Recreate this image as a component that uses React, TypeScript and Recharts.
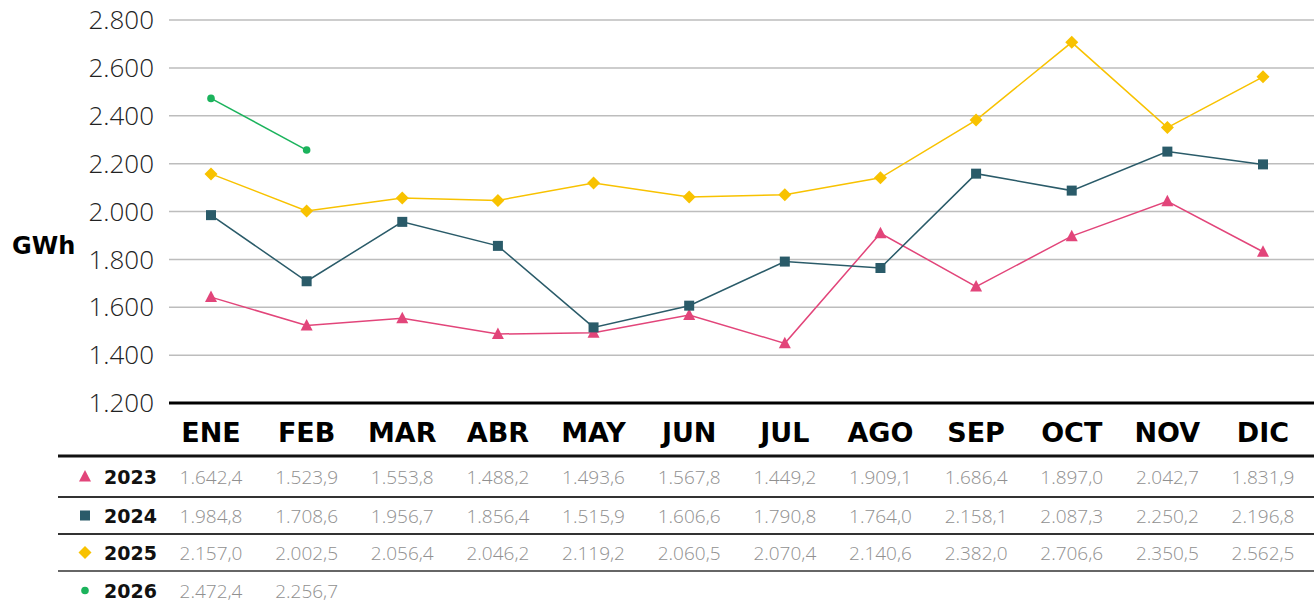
import { CartesianGrid, Line, LineChart, XAxis, YAxis } from 'recharts'

const months = ['ENE', 'FEB', 'MAR', 'ABR', 'MAY', 'JUN', 'JUL', 'AGO', 'SEP', 'OCT', 'NOV', 'DIC']
const v2023 = [1642.4, 1523.9, 1553.8, 1488.2, 1493.6, 1567.8, 1449.2, 1909.1, 1686.4, 1897.0, 2042.7, 1831.9]
const v2024 = [1984.8, 1708.6, 1956.7, 1856.4, 1515.9, 1606.6, 1790.8, 1764.0, 2158.1, 2087.3, 2250.2, 2196.8]
const v2025 = [2157.0, 2002.5, 2056.4, 2046.2, 2119.2, 2060.5, 2070.4, 2140.6, 2382.0, 2706.6, 2350.5, 2562.5]
const v2026 = [2472.4, 2256.7, null, null, null, null, null, null, null, null, null, null]
const yTicks = [1200, 1400, 1600, 1800, 2000, 2200, 2400, 2600, 2800]

const W = 1314
const H = 610

type Shape = 'triangle' | 'square' | 'diamond' | 'circle'

const series: { name: string; values: (number | null)[]; color: string; shape: Shape; rowH: number; line: string; lineW: number }[] = [
  { name: '2023', values: v2023, color: '#e2457a', shape: 'triangle', rowH: 41, line: '#111', lineW: 3 },
  { name: '2024', values: v2024, color: '#2a5b69', shape: 'square', rowH: 37, line: '#333', lineW: 2 },
  { name: '2025', values: v2025, color: '#f8c200', shape: 'diamond', rowH: 37, line: '#333', lineW: 2 },
  { name: '2026', values: v2026, color: '#1bb35c', shape: 'circle', rowH: 39, line: '#333', lineW: 1.5 },
]

const data = months.map((m, i) => ({
  month: m,
  '2023': v2023[i],
  '2024': v2024[i],
  '2025': v2025[i],
  '2026': v2026[i],
}))

const thousands = (n: number) => String(n).replace(/\B(?=(\d{3})+(?!\d))/g, '.')
const fmtValue = (v: number) => {
  const [a, b] = v.toFixed(1).split('.')
  return `${thousands(Number(a))},${b}`
}

function Marker({ cx, cy, shape, color }: { cx: number; cy: number; shape: Shape; color: string }) {
  if (shape === 'triangle') {
    return <path d={`M${cx},${cy - 6.5} L${cx + 6},${cy + 5} L${cx - 6},${cy + 5} Z`} fill={color} />
  }
  if (shape === 'square') {
    return <rect x={cx - 5} y={cy - 5} width={10} height={10} fill={color} />
  }
  if (shape === 'diamond') {
    return <path d={`M${cx},${cy - 6.5} L${cx + 6.5},${cy} L${cx},${cy + 6.5} L${cx - 6.5},${cy} Z`} fill={color} />
  }
  return <circle cx={cx} cy={cy} r={3.8} fill={color} />
}

const makeDot = (shape: Shape, color: string) => (p: any) => {
  if (p.cx == null || p.cy == null || p.value == null) return <g key={p.index} />
  return (
    <g key={p.index}>
      <Marker cx={p.cx} cy={p.cy} shape={shape} color={color} />
    </g>
  )
}

function HeaderTick({ x, y, payload }: any) {
  return (
    <text
      x={x}
      y={y + 29}
      textAnchor="middle"
      dominantBaseline="central"
      fontFamily="'DejaVu Sans', sans-serif"
      fontWeight={700}
      fontSize={27}
      fill="#000"
    >
      {payload.value}
    </text>
  )
}

const makeRowTick = (s: (typeof series)[number]) => ({ x, y, payload }: any) => {
  const v = s.values[payload.index]
  const mid = y + s.rowH / 2
  return (
    <g>
      {payload.index === 0 && (
        <>
          <line x1={x - 153} x2={W} y1={y} y2={y} stroke={s.line} strokeWidth={s.lineW} />
          <Marker cx={x - 126} cy={mid} shape={s.shape} color={s.color} />
          <text
            x={x - 107}
            y={mid}
            dominantBaseline="central"
            fontFamily="'DejaVu Sans', sans-serif"
            fontWeight={700}
            fontSize={19}
            fill="#111"
          >
            {s.name}
          </text>
        </>
      )}
      {v != null && (
        <text
          x={x}
          y={mid}
          textAnchor="middle"
          dominantBaseline="central"
          fontFamily="'Open Sans', sans-serif"
          fontWeight={300}
          fontSize={19}
          fill="#909090"
        >
          {fmtValue(v)}
        </text>
      )}
    </g>
  )
}

export default function App() {
  return (
    <div style={{ position: 'absolute', left: 0, top: 0, width: W, height: H, background: '#fff' }}>
      <LineChart width={W} height={H} data={data} margin={{ top: 20, right: 0, bottom: 0, left: 0 }}>
        <CartesianGrid vertical={false} stroke="#bdbdbd" strokeWidth={1.5} />
        <YAxis
          domain={[1200, 2800]}
          ticks={yTicks}
          width={169}
          axisLine={false}
          tickLine={false}
          tickSize={0}
          tickMargin={15}
          tickFormatter={(v: number) => thousands(v)}
          tick={{ fill: '#222', fontSize: 26, fontFamily: 'Open Sans', fontWeight: 300 }}
          label={{
            value: 'GWh',
            position: 'insideLeft',
            offset: 12,
            dy: 34,
            style: { fill: '#000', fontSize: 24, fontWeight: 700, fontFamily: 'DejaVu Sans' },
          }}
        />
        <XAxis
          dataKey="month"
          height={53}
          padding={{ left: 42, right: 51 }}
          interval={0}
          axisLine={{ stroke: '#000', strokeWidth: 3 }}
          tickLine={false}
          tickSize={0}
          tickMargin={0}
          tick={<HeaderTick />}
        />
        {series.map((s) => (
          <XAxis
            key={s.name}
            xAxisId={`row${s.name}`}
            dataKey="month"
            height={s.rowH}
            padding={{ left: 42, right: 51 }}
            interval={0}
            axisLine={false}
            tickLine={false}
            tickSize={0}
            tickMargin={0}
            tick={makeRowTick(s)}
          />
        ))}
        {series.map((s) => (
          <Line
            key={s.name}
            type="linear"
            dataKey={s.name}
            stroke={s.color}
            strokeWidth={1.5}
            dot={makeDot(s.shape, s.color)}
            activeDot={false}
            isAnimationActive={false}
          />
        ))}
      </LineChart>
    </div>
  )
}
